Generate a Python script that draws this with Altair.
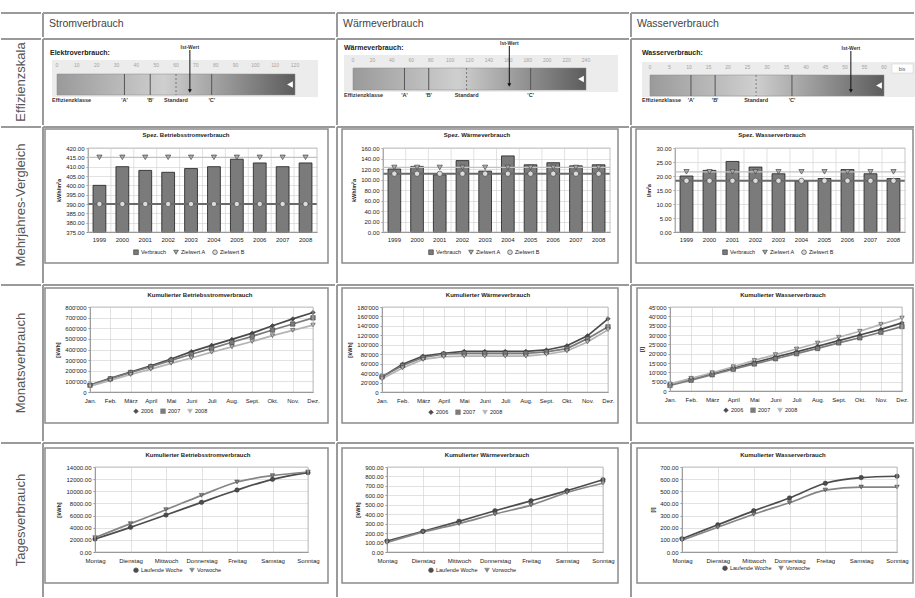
import altair as alt
import pandas as pd

FONT = "Liberation Sans"
TABLE = "#9a9a9a"
GRID = "#d6d6d6"
FRAME = "#8c8c8c"

# ---------------- data ----------------
column_titles = ["Stromverbrauch", "Wärmeverbrauch", "Wasserverbrauch"]
row_titles = ["Effizienzskala", "Mehrjahres-Vergleich", "Monatsverbrauch", "Tagesverbrauch"]

eff_names = ["Elektroverbrauch:", "Wärmeverbrauch:", "Wasserverbrauch:"]
eff_max = [120, 240, 60]
eff_ticks = [
    [0, 10, 20, 30, 40, 50, 60, 70, 80, 90, 100, 110, 120],
    [0, 20, 40, 60, 80, 100, 120, 140, 160, 180, 200, 220, 240],
    [0, 5, 10, 15, 20, 25, 30, 35, 40, 45, 50, 55, 60],
]
eff_class_labels = ["'A'", "'B'", "Standard", "'C'"]
eff_class_values = [[34, 47, 60, 78], [53, 78, 117, 183], [10.5, 16.7, 27.2, 36.4]]
eff_ist = [67, 161, 51.5]

years = ["1999", "2000", "2001", "2002", "2003", "2004", "2005", "2006", "2007", "2008"]
bar_titles = ["Spez. Betriebsstromverbrauch", "Spez. Wärmeverbrauch", "Spez. Wasserverbrauch"]
bar_series = ["Verbrauch", "Zielwert A", "Zielwert B"]
strom_jahr = [400, 410, 408, 407, 409, 410, 414, 412, 410, 412]
strom_ziel_a = [415, 415, 415, 415, 415, 415, 415, 415, 415, 415]
strom_ziel_b = [390, 390, 390, 390, 390, 390, 390, 390, 390, 390]
waerme_jahr = [120, 125, 109, 136, 116, 145, 128, 132, 126, 128]
waerme_ziel_a = [123, 123, 123, 123, 123, 123, 123, 123, 123, 123]
waerme_ziel_b = [111, 111, 111, 111, 111, 111, 111, 111, 111, 111]
wasser_jahr = [20.0, 22.0, 25.2, 23.2, 20.8, 18.2, 19.1, 22.3, 20.8, 19.1]
wasser_ziel_a = [21.5, 21.5, 21.5, 21.5, 21.5, 21.5, 21.5, 21.5, 21.5, 21.5]
wasser_ziel_b = [18.3, 18.3, 18.3, 18.3, 18.3, 18.3, 18.3, 18.3, 18.3, 18.3]
bar_ticks = [
    [375, 380, 385, 390, 395, 400, 405, 410, 415, 420],
    [0, 20, 40, 60, 80, 100, 120, 140, 160],
    [0, 5, 10, 15, 20, 25, 30],
]
bar_units = ["kWh/m²a", "kWh/m²a", "l/m²a"]

months = ["Jan.", "Feb.", "März", "April", "Mai", "Juni", "Juli", "Aug.", "Sept.", "Okt.", "Nov.", "Dez."]
month_titles = ["Kumulierter Betriebsstromverbrauch", "Kumulierter Wärmeverbrauch", "Kumulierter Wasserverbrauch"]
month_series = ["2006", "2007", "2008"]
strom_monat_2006 = [65000, 128000, 187000, 246000, 311000, 380000, 439000, 495000, 554000, 623000, 688000, 748000]
strom_monat_2007 = [64000, 124000, 183000, 238000, 298000, 355000, 410000, 468000, 524000, 583000, 640000, 698000]
strom_monat_2008 = [55000, 110000, 165000, 215000, 270000, 320000, 375000, 425000, 475000, 530000, 580000, 630000]
waerme_monat_2006 = [32000, 59000, 76000, 82000, 86000, 86000, 86000, 86000, 89000, 98000, 119000, 155000]
waerme_monat_2007 = [32000, 56000, 73000, 80000, 82000, 82000, 82000, 82000, 85000, 92000, 113000, 138000]
waerme_monat_2008 = [28000, 51000, 69000, 75000, 76000, 76000, 76000, 76000, 80000, 87000, 106000, 132000]
wasser_monat_2006 = [3500, 6500, 9200, 12200, 15200, 18200, 21000, 24000, 27000, 30000, 33000, 36500]
wasser_monat_2007 = [3000, 5800, 8700, 11700, 14500, 17300, 20000, 22800, 25800, 28500, 31500, 34500]
wasser_monat_2008 = [3800, 6800, 9800, 13000, 16400, 19500, 22500, 25700, 28800, 32000, 35700, 39100]
month_ticks = [
    [0, 100000, 200000, 300000, 400000, 500000, 600000, 700000, 800000],
    [0, 20000, 40000, 60000, 80000, 100000, 120000, 140000, 160000, 180000],
    [0, 5000, 10000, 15000, 20000, 25000, 30000, 35000, 40000, 45000],
]
month_units = ["[kWh]", "[kWh]", "[l]"]

days = ["Montag", "Dienstag", "Mittwoch", "Donnerstag", "Freitag", "Samstag", "Sonntag"]
day_titles = ["Kumulierter Betriebsstromverbrauch", "Kumulierter Wärmeverbrauch", "Kumulierter Wasserverbrauch"]
day_series = ["Laufende Woche", "Vorwoche"]
strom_tag_lw = [2140, 4060, 6100, 8180, 10210, 11970, 13070]
strom_tag_vw = [2360, 4670, 6970, 9330, 11530, 12580, 13180]
waerme_tag_lw = [116, 220, 325, 437, 542, 650, 766]
waerme_tag_vw = [101, 210, 301, 402, 497, 630, 728]
wasser_tag_lw = [109, 224, 339, 445, 566, 613, 624]
wasser_tag_vw = [98, 204, 311, 406, 510, 535, 535]
day_ticks = [
    [0, 2000, 4000, 6000, 8000, 10000, 12000, 14000],
    [0, 100, 200, 300, 400, 500, 600, 700, 800, 900],
    [0, 100, 200, 300, 400, 500, 600, 700],
]
day_units = ["[kWh]", "[kWh]", "[l]"]

bar_values = [
    (strom_jahr, strom_ziel_a, strom_ziel_b),
    (waerme_jahr, waerme_ziel_a, waerme_ziel_b),
    (wasser_jahr, wasser_ziel_a, wasser_ziel_b),
]
month_values = [
    (strom_monat_2006, strom_monat_2007, strom_monat_2008),
    (waerme_monat_2006, waerme_monat_2007, waerme_monat_2008),
    (wasser_monat_2006, wasser_monat_2007, wasser_monat_2008),
]
day_values = [
    (strom_tag_lw, strom_tag_vw),
    (waerme_tag_lw, waerme_tag_vw),
    (wasser_tag_lw, wasser_tag_vw),
]

# ---------------- layout (pixels) ----------------
COL_X = [0, 42, 336, 630, 915]
ROW_Y = [12, 38, 126, 284, 442, 598]
# y of the plot-area origin shared by every cell of a row
ROW_ORIGIN = [12, 38, 148, 307, 467]

EFF_LAYOUT = [
    dict(title=(8, 15), strip=(10, 276, 22, 59), bar=(15, 253, 36, 57), tick_y=27, label_y=62, ist_y=9, arrow=(12, 53)),
    dict(title=(8, 10), strip=(8, 282, 17, 54), bar=(17, 250, 30, 52), tick_y=22, label_y=57, ist_y=5, arrow=(8, 47)),
    dict(title=(12, 15), strip=(12, 285, 24, 59), bar=(20, 254, 37, 58), tick_y=29, label_y=62, ist_y=10, arrow=(13, 53)),
]

GEOM = {
    (2, 0): dict(x=(88, 317), h=84, frame=(45, 129, 328, 263), title=(186, 135), legend=(133, 249)),
    (2, 1): dict(x=(383, 610), h=84, frame=(342, 129, 618, 263), title=(477, 135), legend=(428, 249)),
    (2, 2): dict(x=(675, 905), h=84, frame=(636, 129, 913, 263), title=(772, 135), legend=(722, 249)),
    (3, 0): dict(x=(90, 313), h=85, frame=(45, 288, 328, 423), title=(200, 295), legend=(133, 408)),
    (3, 1): dict(x=(382, 608), h=85, frame=(342, 288, 618, 423), title=(488, 295), legend=(428, 409)),
    (3, 2): dict(x=(670, 902), h=84, frame=(637, 288, 913, 423), title=(783, 295), legend=(723, 407)),
    (4, 0): dict(x=(95, 308), h=85, frame=(45, 448, 328, 583), title=(198, 455), legend=(133, 567)),
    (4, 1): dict(x=(387, 603), h=85, frame=(342, 448, 618, 583), title=(487, 455), legend=(428, 567)),
    (4, 2): dict(x=(682, 897), h=85, frame=(637, 448, 913, 583), title=(783, 455), legend=(722, 565)),
}

ONE = alt.Data(values=[{"k": 1}])


def px_rect(x, x2, y, y2, **kw):
    return alt.Chart(ONE).mark_rect(**kw).encode(
        x=alt.value(x), x2=alt.value(x2), y=alt.value(y), y2=alt.value(y2))


def vrule(x, y, y2, **kw):
    return alt.Chart(ONE).mark_rule(**kw).encode(x=alt.value(x), y=alt.value(y), y2=alt.value(y2))


def hrule(y, x, x2, **kw):
    return alt.Chart(ONE).mark_rule(**kw).encode(y=alt.value(y), x=alt.value(x), x2=alt.value(x2))


def px_text(x, y, text, **kw):
    return alt.Chart(ONE).mark_text(text=text, **kw).encode(x=alt.value(x), y=alt.value(y))


def skeleton(ci, ri, ox, oy):
    """Invisible cell box (defines the cell's bounds) plus its top/left table lines."""
    cx0, cx1 = COL_X[ci] - ox, COL_X[ci + 1] - ox
    cy0, cy1 = ROW_Y[ri] - oy, ROW_Y[ri + 1] - oy
    layers = [px_rect(cx0, cx1, cy0, cy1, opacity=0)]
    layers.append(hrule(cy0 + 1, cx0 + 1, cx1 - 1, color=TABLE, strokeWidth=2))
    if ci > 0:
        layers.append(vrule(cx0 + 1, cy0 + 1, cy1 - 1, color=TABLE, strokeWidth=2))
    return layers


def plain_cell(ci, ri, extra, w=None, h=None):
    ox = COL_X[ci]
    oy = ROW_ORIGIN[ri]
    if w is None:
        w = COL_X[ci + 1] - COL_X[ci]
    if h is None:
        h = ROW_Y[ri + 1] - oy
    return alt.layer(*(skeleton(ci, ri, ox, oy) + extra)).properties(width=w, height=h)


def eff_cell(ci):
    L = EFF_LAYOUT[ci]
    m = eff_max[ci]
    bx0, bx1, by0, by1 = L["bar"]
    xs = alt.Scale(domain=[0, m], range=[bx0, bx1], nice=False, zero=False)

    def X(f):
        return alt.X(f, scale=xs, axis=None)

    sx0, sx1, sy0, sy1 = L["strip"]
    rng = pd.DataFrame({"v0": [0], "v1": [m]})
    ticks = pd.DataFrame({"v": eff_ticks[ci]})
    cls = pd.DataFrame({"v": eff_class_values[ci], "label": eff_class_labels})
    ist = pd.DataFrame({"v": [eff_ist[ci]], "label": ["Ist-Wert"]})
    grad = alt.LinearGradient(
        gradient="linear", x1=0, x2=1, y1=0, y2=0,
        stops=[alt.GradientStop(color="#9a9a9a", offset=0),
               alt.GradientStop(color="#cfcfcf", offset=0.45),
               alt.GradientStop(color="#5c5c5c", offset=1)])
    layers = [
        px_rect(sx0, sx1, sy0, sy1, color="#ececec"),
        alt.Chart(rng).mark_rect(fill=grad, stroke="#8a8a8a", strokeWidth=0.5).encode(
            x=X("v0:Q"), x2="v1:Q", y=alt.value(by0), y2=alt.value(by1)),
        alt.Chart(rng).mark_point(shape="triangle-left", filled=True, color="white", size=45,
                                  opacity=1, xOffset=-5).encode(
            x=X("v1:Q"), y=alt.value((by0 + by1) / 2)),
        alt.Chart(ticks).mark_text(fontSize=5, color="#a3a3a3").encode(
            x=X("v:Q"), y=alt.value(L["tick_y"]), text=alt.Text("v:Q")),
        alt.Chart(cls).transform_filter(alt.datum.label != "Standard").mark_rule(
            color="#555555", strokeWidth=1).encode(x=X("v:Q"), y=alt.value(by0), y2=alt.value(by1)),
        alt.Chart(cls).transform_filter(alt.datum.label == "Standard").mark_rule(
            color="#666666", strokeWidth=0.8, strokeDash=[2, 2]).encode(
            x=X("v:Q"), y=alt.value(by0), y2=alt.value(by1)),
        alt.Chart(cls).mark_text(fontSize=5.5, fontWeight="bold", color="#333333").encode(
            x=X("v:Q"), y=alt.value(L["label_y"]), text="label:N"),
        px_text(sx0, L["label_y"], "Effizienzklasse", fontSize=5.5, fontWeight="bold",
                color="#333333", align="left"),
        alt.Chart(ist).mark_rule(color="#111111", strokeWidth=1).encode(
            x=X("v:Q"), y=alt.value(L["arrow"][0]), y2=alt.value(L["arrow"][1])),
        alt.Chart(ist).mark_point(shape="triangle-down", filled=True, color="#111111", size=16,
                                  opacity=1).encode(x=X("v:Q"), y=alt.value(L["arrow"][1])),
        alt.Chart(ist).mark_text(fontSize=5, fontWeight="bold", color="#333333").encode(
            x=X("v:Q"), y=alt.value(L["ist_y"]), text="label:N"),
        px_text(L["title"][0], L["title"][1], eff_names[ci], fontSize=7, fontWeight="bold",
                color="#222222", align="left"),
    ]
    if ci == 2:
        layers.append(px_rect(262, 283, 26, 35, color="white", stroke="#cccccc", strokeWidth=0.5))
        layers.append(px_text(272, 30.5, "bis", fontSize=5, color="#555555"))
    return plain_cell(ci + 1, 1, layers)


def chart_frame(ci, ri):
    g = GEOM[(ri, ci)]
    px0, px1 = g["x"]
    py0 = ROW_ORIGIN[ri]
    W, H = px1 - px0, g["h"]
    f = g["frame"]
    layers = skeleton(ci + 1, ri, px0, py0)
    layers.append(px_rect(f[0] - px0, f[2] - px0, f[1] - py0, f[3] - py0,
                          fillOpacity=0, stroke=FRAME, strokeWidth=1.5))
    return g, px0, py0, W, H, layers


def legend_for(g, px0, py0):
    return alt.Legend(title=None, orient="none", direction="horizontal",
                      legendX=g["legend"][0] - px0, legendY=g["legend"][1] - py0,
                      labelFontSize=5.5, symbolSize=22, columnPadding=5, labelOffset=2,
                      symbolStrokeColor="#333333", symbolStrokeWidth=0.6, padding=0)


def bar_cell(ci):
    ri = 2
    g, px0, py0, W, H, layers = chart_frame(ci, ri)
    v, a, b = bar_values[ci]
    df = pd.DataFrame({
        "Jahr": years * 3,
        "Serie": [s for s in bar_series for _ in years],
        "Wert": list(v) + list(a) + list(b),
    })
    ticks = bar_ticks[ci]
    ymin, ymax = ticks[0], ticks[-1]
    xs = alt.Scale(domain=years, paddingInner=0, paddingOuter=0)
    xa = alt.Axis(title=None, labelAngle=0, ticks=False, grid=False, labelPadding=4, domainColor="#888888")
    ys = alt.Scale(domain=[ymin, ymax], nice=False, zero=False)
    ya = alt.Axis(values=ticks, format=".2f", title=bar_units[ci], grid=True, gridColor=GRID,
                  titlePadding=4)
    cs = alt.Scale(domain=bar_series, range=["#7b7b7b", "#a9a9a9", "#dcdcdc"])
    ss = alt.Scale(domain=bar_series, range=["square", "triangle-down", "circle"])
    leg = legend_for(g, px0, py0)

    def X(**kw):
        return alt.X("Jahr:O", scale=xs, axis=xa, **kw)

    def Y(f="Wert:Q"):
        return alt.Y(f, scale=ys, axis=ya)

    base = alt.Chart(df)
    verb = base.transform_filter(alt.datum.Serie == "Verbrauch")
    layers += [
        verb.mark_rule(color=GRID, strokeWidth=0.7).encode(x=X(bandPosition=0)),
        verb.mark_bar(width=alt.RelativeBandSize(0.56), stroke="#1e1e1e", strokeWidth=0.8).encode(
            x=X(), y=Y(), y2=alt.datum(ymin),
            color=alt.Color("Serie:N", scale=cs, legend=leg)),
        base.transform_filter(alt.datum.Serie == "Zielwert A").mark_rule(
            color="#c2c2c2", strokeWidth=1.2).encode(
            y=Y("max(Wert):Q"), x=alt.value(0), x2=alt.value(W)),
        base.transform_filter(alt.datum.Serie == "Zielwert B").mark_rule(
            color="#6a6a6a", strokeWidth=2.2).encode(
            y=Y("max(Wert):Q"), x=alt.value(0), x2=alt.value(W)),
        base.transform_filter(alt.datum.Serie != "Verbrauch").mark_point(
            filled=True, size=28, stroke="#3a3a3a", strokeWidth=0.6, opacity=1).encode(
            x=X(), y=Y(),
            color=alt.Color("Serie:N", scale=cs, legend=leg),
            shape=alt.Shape("Serie:N", scale=ss, legend=leg)),
        px_rect(0, W, 0, H, fillOpacity=0, stroke="#b8b8b8", strokeWidth=0.8),
        px_text(g["title"][0] - px0, g["title"][1] - py0, bar_titles[ci], fontSize=6,
                fontWeight="bold", color="#222222"),
    ]
    return alt.layer(*layers).properties(width=W, height=H)


def line_cell(ci, ri, cats, series, values, ticks, units, titles, label_expr, fmt,
              colors, shapes, interp):
    g, px0, py0, W, H, layers = chart_frame(ci, ri)
    rows = []
    for s, vals in zip(series, values):
        for c, val in zip(cats, vals):
            rows.append({"Kat": c, "Serie": s, "Wert": val})
    df = pd.DataFrame(rows)
    xs = alt.Scale(type="point", domain=cats, padding=0)
    xa = alt.Axis(title=None, labelAngle=0, ticks=False, grid=True, gridColor=GRID,
                  labelPadding=5, domainColor="#888888")
    ys = alt.Scale(domain=[ticks[0], ticks[-1]], nice=False, zero=False)
    ya_kw = dict(values=ticks, title=units, grid=True, gridColor=GRID, titlePadding=4)
    if label_expr:
        ya_kw["labelExpr"] = label_expr
    else:
        ya_kw["format"] = fmt
    ya = alt.Axis(**ya_kw)
    cs = alt.Scale(domain=series, range=colors)
    ss = alt.Scale(domain=series, range=shapes)
    leg = legend_for(g, px0, py0)
    base = alt.Chart(df)
    X = alt.X("Kat:N", scale=xs, axis=xa)
    Y = alt.Y("Wert:Q", scale=ys, axis=ya)
    layers += [
        base.mark_line(strokeWidth=1.7, interpolate=interp).encode(
            x=X, y=Y, color=alt.Color("Serie:N", scale=cs, legend=leg)),
        base.mark_point(filled=True, size=20, stroke="#333333", strokeWidth=0.5, opacity=1).encode(
            x=X, y=Y, color=alt.Color("Serie:N", scale=cs, legend=leg),
            shape=alt.Shape("Serie:N", scale=ss, legend=leg)),
        px_rect(0, W, 0, H, fillOpacity=0, stroke="#b8b8b8", strokeWidth=0.8),
        px_text(g["title"][0] - px0, g["title"][1] - py0, titles[ci], fontSize=6,
                fontWeight="bold", color="#222222"),
    ]
    return alt.layer(*layers).properties(width=W, height=H)


THOUSANDS = "join(split(format(datum.value, ','), ','), \"'\")"

header_row = [plain_cell(0, 0, [])] + [
    plain_cell(ci + 1, 0, [px_text(7, 12, column_titles[ci], fontSize=10.5, color="#444444", align="left")])
    for ci in range(3)
]


def row_label(ri):
    oy = ROW_ORIGIN[ri]
    mid = (ROW_Y[ri] + ROW_Y[ri + 1]) / 2 - oy
    return plain_cell(0, ri, [px_text(21, mid, row_titles[ri - 1], angle=270, fontSize=13,
                                      color="#555555")], h=40)


eff_row = [row_label(1)] + [eff_cell(ci) for ci in range(3)]
bar_row = [row_label(2)] + [bar_cell(ci) for ci in range(3)]
month_row = [row_label(3)] + [
    line_cell(ci, 3, months, month_series, month_values[ci], month_ticks[ci], month_units[ci],
              month_titles, THOUSANDS, None,
              ["#4a4a4a", "#7c7c7c", "#b4b4b4"], ["diamond", "square", "triangle-down"], "linear")
    for ci in range(3)
]
day_row = [row_label(4)] + [
    line_cell(ci, 4, days, day_series, day_values[ci], day_ticks[ci], day_units[ci],
              day_titles, None, ".2f",
              ["#4d4d4d", "#858585"], ["circle", "triangle-down"], "monotone")
    for ci in range(3)
]


def hrow(cells):
    return alt.hconcat(*cells, spacing=0).resolve_scale(
        color="independent", shape="independent", x="independent", y="independent")


chart = alt.vconcat(
    hrow(header_row), hrow(eff_row), hrow(bar_row), hrow(month_row), hrow(day_row), spacing=0
).resolve_scale(
    color="independent", shape="independent", x="independent", y="independent"
).properties(
    padding={"left": 0, "top": 12, "right": 0, "bottom": 0}
).configure(
    font=FONT
).configure_view(
    strokeWidth=0
).configure_axis(
    labelFont=FONT, labelFontSize=6, labelColor="#222222", titleFont=FONT, titleFontSize=5.5,
    titleFontWeight="bold", titleColor="#222222", gridWidth=0.7, domainColor="#8c8c8c",
    tickColor="#8c8c8c", tickSize=2
).configure_legend(
    labelFont=FONT, labelColor="#222222"
)

chart.save("out.html", embed_options={"renderer": "svg", "actions": False})
